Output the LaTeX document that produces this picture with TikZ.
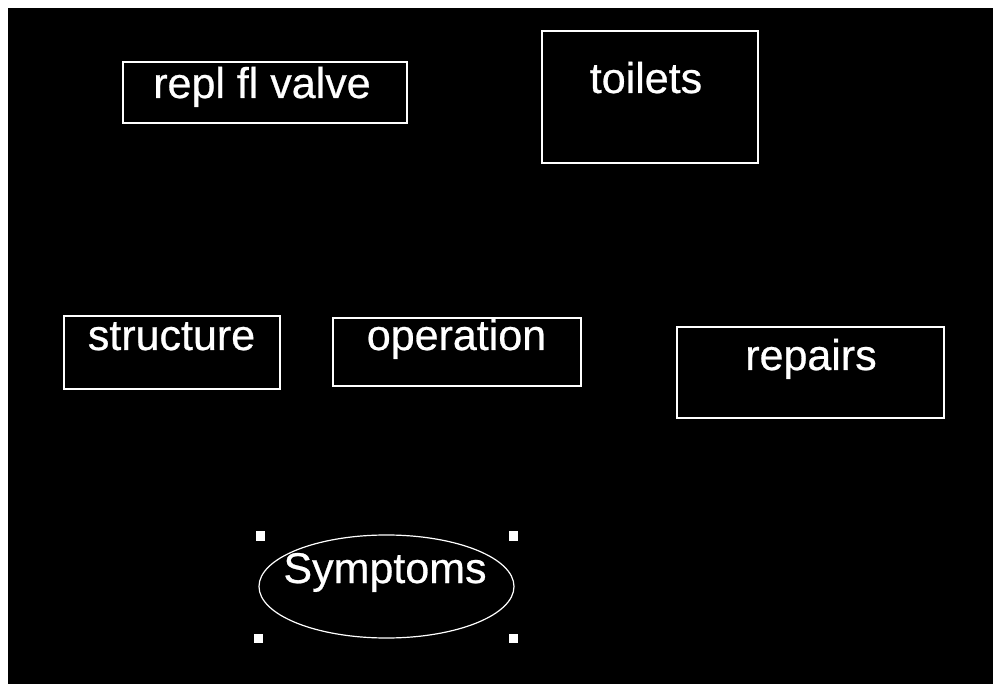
\documentclass[tikz,border=0pt]{standalone}
\usepackage{fontspec}
\setmainfont{Liberation Sans}[FakeBold=0.6]
\usetikzlibrary{shapes.geometric}
\begin{document}
\begin{tikzpicture}[x=1pt,y=-1pt,
  box/.style={draw=white, line width=1.4pt, inner sep=0pt, outer sep=0pt},
  oval/.style={ellipse, draw=white, line width=1.2pt, inner sep=0pt, outer sep=0pt},
  handle/.style={fill=white, draw=none, minimum size=9pt, inner sep=0pt},
  txt/.style={text=white, anchor=base, inner sep=0pt,
    font=\fontsize{43pt}{48pt}\selectfont\bfseries}]
  % canvas
  \fill[white] (0,0) rectangle (1002,684);
  \fill[black] (8,8) rectangle (993,684);
  \useasboundingbox (0,0) rectangle (1002,684);

  % boxes
  \node[box, minimum width=284pt, minimum height=61pt]  (repl)  at (265,92.5)  {};
  \node[box, minimum width=216pt, minimum height=132pt] (toil)  at (650,97)    {};
  \node[box, minimum width=216pt, minimum height=73pt]  (struc) at (172,352.5) {};
  \node[box, minimum width=248pt, minimum height=68pt]  (oper)  at (457,352)   {};
  \node[box, minimum width=267pt, minimum height=91pt]  (rep)   at (810.5,372.5) {};
  \node[oval, minimum width=255pt, minimum height=103pt] (symp) at (386.5,586.5) {};

  % selection handles around the oval
  \node[handle] (h1) at (260,536) {};
  \node[handle] (h2) at (513,536) {};
  \node[handle] (h3) at (258,638) {};
  \node[handle] (h4) at (513,638) {};

  % labels
  \node[txt] (treplt)  at (262,98)    {\mdseries repl fl valve};
  \node[txt] (ttoilt)  at (646,93)    {\mdseries toilets};
  \node[txt] (tstruct) at (171.5,350) {\mdseries structure};
  \node[txt] (toper)   at (456.5,350) {\mdseries operation};
  \node[txt] (trep)    at (811,370)   {\mdseries repairs};
  \node[txt] (tsymp)   at (385,583)   {\mdseries Symptoms};
\end{tikzpicture}
\end{document}
